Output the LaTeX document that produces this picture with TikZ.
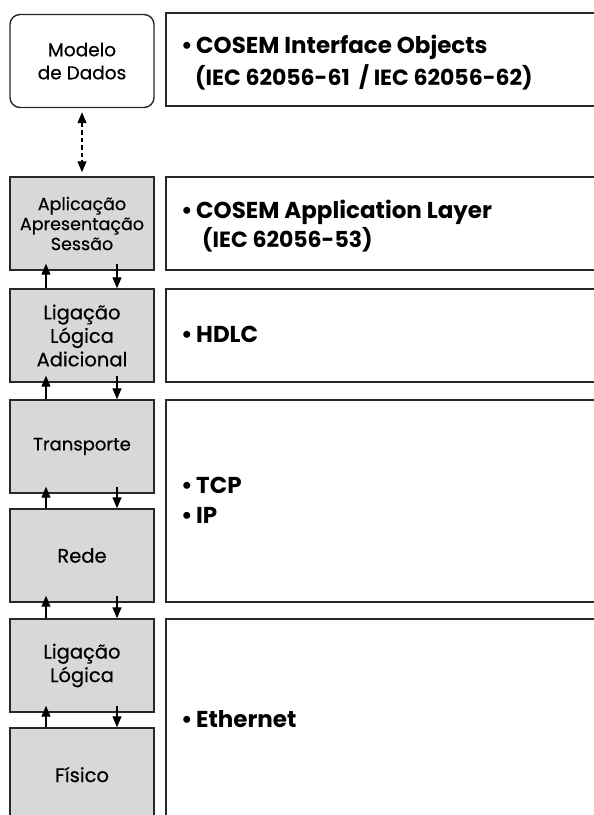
\documentclass[tikz,border=0pt]{standalone}
\usepackage{fontspec}
\setmainfont{Poppins}
\newfontfamily\labfont{Poppins}[FakeBold=0.5]
\usetikzlibrary{arrows.meta}
\definecolor{layerfill}{RGB}{216,216,216}
\definecolor{edge}{RGB}{40,40,40}
\tikzset{
  layerbox/.style={draw=edge, line width=1.4pt, fill=layerfill, minimum width=144pt, minimum height=93pt, inner sep=0pt, align=center, font=\labfont\fontsize{19.5}{23.5}\selectfont},
  modelbox/.style={layerbox, fill=white, rounded corners=10pt},
  infobox/.style={draw=edge, line width=1.4pt, fill=white, inner sep=0pt},
  infotext/.style={anchor=base west, inner sep=0pt, font=\fontsize{23}{27}\selectfont\bfseries},
  updown/.style={line width=1.1pt, -{Triangle[length=11pt,width=9pt]}},
}
\newcommand{\bul}{\makebox[15pt][l]{•}}
\begin{document}
\begin{tikzpicture}[x=1pt,y=-1pt]
\clip (0,0) rectangle (594,815);
\fill[white] (0,0) rectangle (594,815);
% right boxes
\draw[infobox] (166,13) rectangle (610,106);
\draw[infobox] (166,177) rectangle (610,270);
\draw[infobox] (166,289) rectangle (610,382);
\draw[infobox] (166,400) rectangle (610,602);
\draw[infobox] (166,619) rectangle (610,840);
% left boxes
\node[modelbox, font=\labfont\fontsize{18.5}{23}\selectfont] (modelo) at (82,61) {Modelo\\de Dados};
\node[layerbox, font=\labfont\fontsize{17.5}{20}\selectfont] (app) at (82,223.5) {Aplicação\\Apresentação\\Sessão};
\node[layerbox] (lla) at (82,335.5) {Ligação\\Lógica\\Adicional};
\node[layerbox, font=\labfont\fontsize{18}{23}\selectfont] (tr) at (82,446.5) {Transporte};
\node[layerbox] (rd) at (82,555.5) {Rede};
\node[layerbox] (ll) at (82,665.5) {Ligação\\Lógica};
\node[layerbox] (fi) at (82,774.5) {Físico};
% texts
\node[infotext] (t1a) at (181,53) {\bul COSEM Interface Objects};
\node[infotext, font=\fontsize{22}{26}\selectfont\bfseries] (t1b) at (195,85) {(IEC 62056-61\ \ / IEC 62056-62)};
\node[infotext] (t2a) at (181,218) {\bul COSEM Application Layer};
\node[infotext, font=\fontsize{22}{26}\selectfont\bfseries] (t2b) at (202,247) {(IEC 62056-53)};
\node[infotext] (t3) at (181,342) {\bul HDLC};
\node[infotext] (t4a) at (181,493) {\bul TCP};
\node[infotext] (t4b) at (181,523) {\bul IP};
\node[infotext] (t5) at (181,727) {\bul Ethernet};
% dashed link
\draw[line width=1.1pt, dash pattern=on 4.5pt off 3pt, {Triangle[length=11pt,width=9pt]}-{Triangle[length=11pt,width=9pt]}, shorten <=4pt, shorten >=4pt] (modelo.south) -- (app.north);
% up/down arrows
\foreach \u/\l in {app/lla, lla/tr, tr/rd, rd/ll, ll/fi}{
  \draw[updown] ([xshift=-36pt]\l.north) -- ([xshift=-36pt,yshift=7pt]\u.south);
  \draw[updown] ([xshift=35pt,yshift=7pt]\u.south) -- ([xshift=35pt]\l.north);
}
\end{tikzpicture}
\end{document}
